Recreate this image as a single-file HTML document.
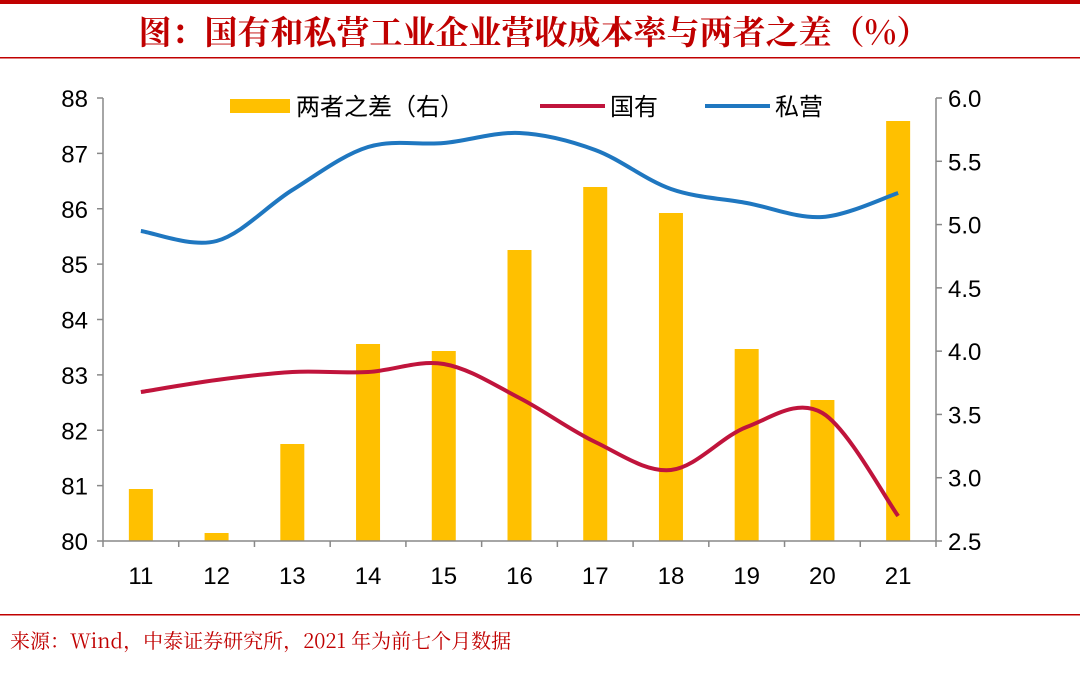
<!DOCTYPE html>
<html><head><meta charset="utf-8"><style>
html,body{margin:0;padding:0;background:#fff;width:1080px;height:676px;overflow:hidden}
svg{display:block}
text{font-family:"Liberation Sans","Noto Sans CJK SC",sans-serif}
</style></head><body>
<svg id="s" width="1080" height="676" xmlns="http://www.w3.org/2000/svg">
<rect x="0" y="0" width="1080" height="4" fill="#c00000"/>
<text x="534" y="44" text-anchor="middle" font-size="33" font-weight="bold" fill="#c00000" style="font-family:'Noto Serif CJK SC',serif">图：国有和私营工业企业营收成本率与两者之差（%）</text>
<rect x="0" y="57" width="1080" height="1.5" fill="#c00000"/>
<rect x="0" y="614" width="1080" height="1.5" fill="#c00000"/>
<text x="10" y="648" font-size="20" fill="#c00000" style="font-family:'Noto Serif CJK SC',serif">来源：Wind，中泰证券研究所，2021 年为前七个月数据</text>
<g id="g"></g>
<g stroke="#888" stroke-width="1.5" fill="none">
<line x1="103" y1="98" x2="103" y2="541"/><line x1="936" y1="98" x2="936" y2="541"/><line x1="103" y1="541" x2="936" y2="541"/>
</g>
<g font-size="24" fill="#000" id="lab"></g>
<rect x="230" y="99" width="60" height="14" fill="#ffc000"/>
<text x="296" y="115" font-size="24" style="font-family:'Noto Sans CJK SC',sans-serif">两者之差（右）</text>
<line x1="540" y1="106" x2="605" y2="106" stroke="#c0143c" stroke-width="4"/>
<text x="610" y="115" font-size="24" style="font-family:'Noto Sans CJK SC',sans-serif">国有</text>
<line x1="705" y1="106" x2="770" y2="106" stroke="#1f77c0" stroke-width="4"/>
<text x="775" y="115" font-size="24" style="font-family:'Noto Sans CJK SC',sans-serif">私营</text>
</svg>
<script>
var NS="http://www.w3.org/2000/svg",g=document.getElementById('g'),lab=document.getElementById('lab');
function el(t,a,p,txt){var e=document.createElementNS(NS,t);for(var k in a)e.setAttribute(k,a[k]);if(txt)e.textContent=txt;(p||g).appendChild(e);return e;}
var step=833/11,cx=[];for(var i=0;i<11;i++)cx.push(103+step/2+i*step);
var bars=[541-489,541-533,541-444,541-344,541-351,541-250,541-187,541-213,541-349,541-400,541-121];
bars.forEach(function(h,i){el('rect',{x:cx[i]-12,y:541-h,width:24,height:h,fill:'#ffc000'});});
var blue=[231,241,190,147,143,133,150,189,203,217,193];
var red=[392,380,372,372,364,398,442,470,427,413,516];
function path(ys){var p=[];for(var i=0;i<ys.length;i++)p.push([cx[i],ys[i]]);var d='M'+p[0][0]+','+p[0][1];
for(var i=0;i<p.length-1;i++){var p0=p[i-1]||p[i],p1=p[i],p2=p[i+1],p3=p[i+2]||p2;var t=6;
d+=' C'+(p1[0]+(p2[0]-p0[0])/t)+','+(p1[1]+(p2[1]-p0[1])/t)+' '+(p2[0]-(p3[0]-p1[0])/t)+','+(p2[1]-(p3[1]-p1[1])/t)+' '+p2[0]+','+p2[1];}return d;}
el('path',{d:path(blue),stroke:'#1f77c0','stroke-width':4,fill:'none'});
el('path',{d:path(red),stroke:'#c0143c','stroke-width':4,fill:'none'});
for(var v=0;v<=8;v++){var y=541-v*443/8;el('text',{x:88,y:y+9,'text-anchor':'end','font-size':24},lab,String(80+v));
el('line',{x1:97,y1:y,x2:103,y2:y,stroke:'#888','stroke-width':1.5});}
for(var v=0;v<=7;v++){var y=541-v*443/7;el('text',{x:948,y:y+9,'font-size':24},lab,(2.5+v*0.5).toFixed(1));
el('line',{x1:936,y1:y,x2:942,y2:y,stroke:'#888','stroke-width':1.5});}
for(var i=0;i<=11;i++){var x=103+i*step;el('line',{x1:x,y1:541,x2:x,y2:547,stroke:'#888','stroke-width':1.5});}
for(var i=0;i<11;i++)el('text',{x:cx[i],y:584,'text-anchor':'middle','font-size':24},lab,String(11+i));
</script>
</body></html>
